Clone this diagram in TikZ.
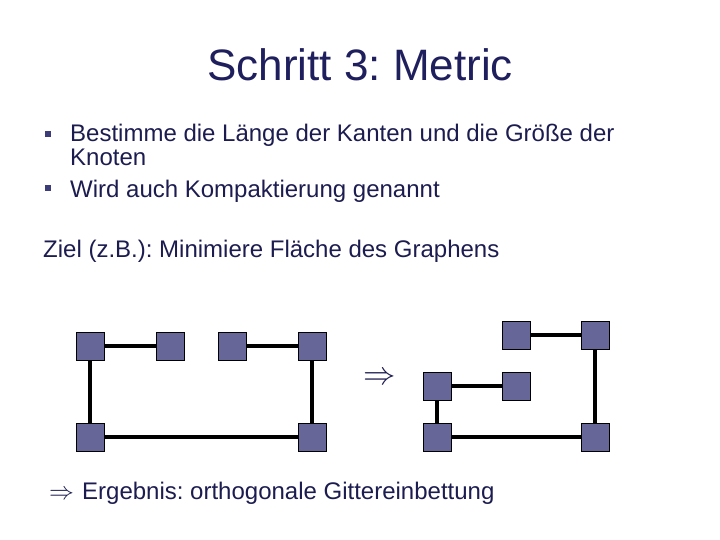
\documentclass[tikz,border=0pt]{standalone}
\usepackage{fontspec}
\setmainfont{Liberation Sans}
\usetikzlibrary{positioning}
\frenchspacing
\definecolor{titelblau}{RGB}{31,31,94}
\definecolor{textblau}{RGB}{28,28,80}
\definecolor{punktblau}{RGB}{60,60,120}
\definecolor{knotenfarbe}{RGB}{102,102,153}
\tikzset{knoten/.style={draw=black,fill=knotenfarbe,minimum size=28pt,inner sep=0pt,line width=0.6pt}}
\tikzset{kante/.style={line width=3.2pt}}
\tikzset{zeile/.style={anchor=base west,inner sep=0pt,text=textblau,font=\fontsize{24}{28}\selectfont}}
\tikzset{punkt/.style={fill=punktblau,minimum size=6pt,inner sep=0pt}}

\begin{document}
\begin{tikzpicture}[x=1pt,y=-1pt]
  \useasboundingbox (0,0) rectangle (720,540);

  \node[anchor=base,inner sep=0pt,text=titelblau,font=\fontsize{44}{50}\selectfont] (titel) at (360,81) {Schritt 3: Metric};

  \node[punkt] (p1) at (48,134) {};
  \node[punkt] (p2) at (48,188) {};
  \node[zeile] (z1) at (70,142) {Bestimme die Länge der Kanten und die Größe der};
  \node[zeile] (z2) at (70,166) {Knoten};
  \node[zeile] (z3) at (70,198) {Wird auch Kompaktierung genannt};
  \node[zeile] (ziel) at (43,258) {Ziel (z.B.): Minimiere Fläche des Graphens};

  % vorher
  \node[knoten] (a) at (90,346) {};
  \node[knoten] (b) at (170,346) {};
  \node[knoten] (c) at (232,346) {};
  \node[knoten] (d) at (312,346) {};
  \node[knoten] (e) at (90,437) {};
  \node[knoten] (f) at (312,437) {};

  \node[text=textblau,inner sep=0pt,font=\fontsize{24}{28}\selectfont] (mitte) at (380,379) {\scalebox{1.3}{$\Rightarrow$}};

  % nachher
  \node[knoten] (g) at (516,335) {};
  \node[knoten] (h) at (595,335) {};
  \node[knoten] (i) at (437,386) {};
  \node[knoten] (j) at (516,386) {};
  \node[knoten] (k) at (437,437) {};
  \node[knoten] (l) at (595,437) {};

  \foreach \u/\v in {a/b,c/d,a/e,d/f,e/f,g/h,h/l,i/j,i/k,k/l}{
               \draw[kante] (\u)--(\v);
};

  \node[zeile] (pfeil) at (49,499) {$\Rightarrow$};
  \node[zeile] (erg) at (82,499) {Ergebnis: orthogonale Gittereinbettung};
\end{tikzpicture}
\end{document}
